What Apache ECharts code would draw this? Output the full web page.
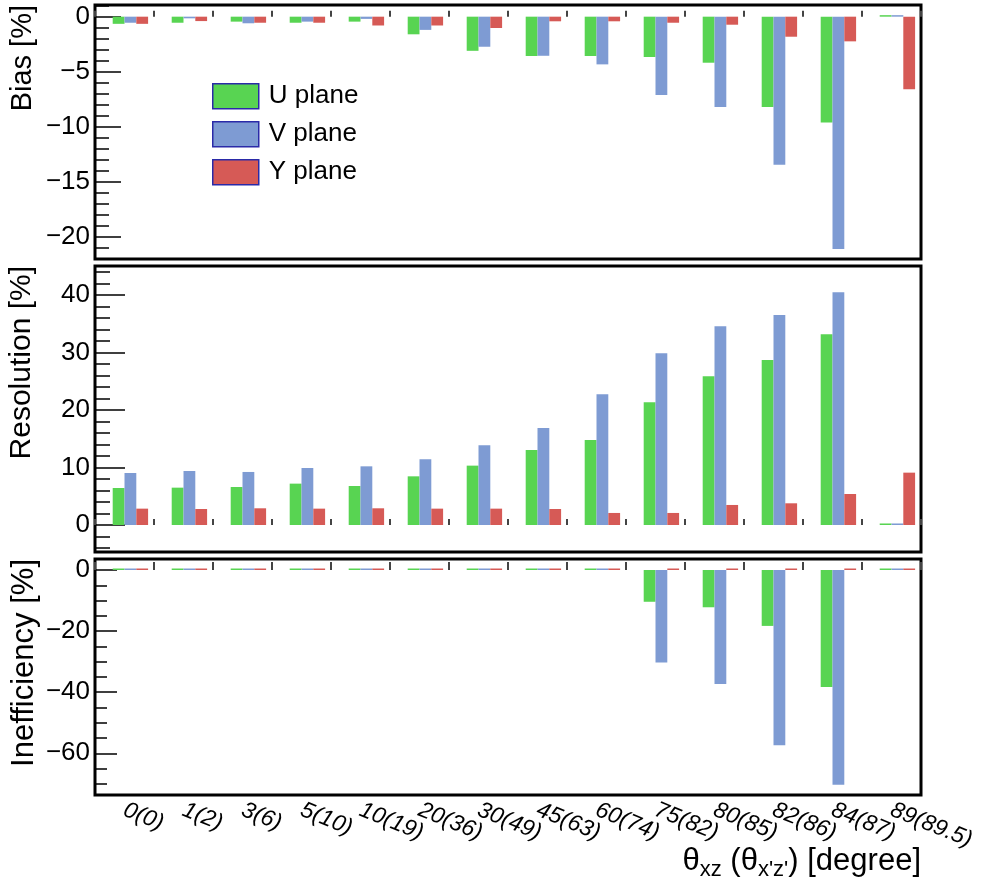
<!DOCTYPE html>
<html>
<head>
<meta charset="utf-8">
<script src="https://cdn.jsdelivr.net/npm/echarts@6/dist/echarts.min.js"></script>
<style>
  html, body { margin: 0; padding: 0; background: #fff; }
  #chart { width: 987px; height: 886px; }
</style>
</head>
<body>
<div id="chart"></div>
<script>
// angle bins: theta_xz (theta_x'z')
const categories = ['0(0)', '1(2)', '3(6)', '5(10)', '10(19)', '20(36)', '30(49)', '45(63)',
  '60(74)', '75(82)', '80(85)', '82(86)', '84(87)', '89(89.5)']

const biasU = [-0.65, -0.55, -0.45, -0.55, -0.45, -1.6, -3.1, -3.57, -3.57, -3.66, -4.18, -8.2, -9.6, 0]
const biasV = [-0.55, -0.15, -0.6, -0.45, -0.2, -1.2, -2.73, -3.55, -4.33, -7.12, -8.2, -13.45, -21.1, 0]
const biasY = [-0.65, -0.4, -0.55, -0.55, -0.8, -0.8, -1.03, -0.42, -0.42, -0.55, -0.73, -1.82, -2.24, -6.6]

const resU = [6.43, 6.49, 6.6, 7.19, 6.78, 8.46, 10.32, 13.04, 14.78, 21.33, 25.86, 28.7, 33.16, 0]
const resV = [9.04, 9.39, 9.22, 9.91, 10.2, 11.42, 13.85, 16.87, 22.72, 29.85, 34.55, 36.52, 40.46, 0]
const resY = [2.84, 2.78, 2.9, 2.84, 2.9, 2.84, 2.84, 2.78, 2.09, 2.09, 3.48, 3.77, 5.39, 9.1]

const ineffU = [0, 0, 0, 0, 0, 0, 0, 0, 0, -10.4, -12.2, -18.3, -38.3, 0]
const ineffV = [0, 0, 0, 0, 0, 0, 0, 0, 0, -30.3, -37.3, -57.4, -70.3, 0]
const ineffY = [0, 0, 0, 0, 0, 0, 0, 0, 0, 0, 0, 0, 0, 0]

const planeNames = ['U plane', 'V plane', 'Y plane']

// y tick labels per panel
const biasTicks = [0, -5, -10, -15, -20]
const resTicks = [0, 10, 20, 30, 40]
const ineffTicks = [0, -20, -40, -60]

const FONT = '"Liberation Sans", Arial, Helvetica, sans-serif'
const COLORS = ['#58d452', '#7e9bd3', '#d65a56']

// minor tick positions between majors
function minorTicks(min, max, step, majors) {
  const out = []
  for (let v = Math.ceil(min / step) * step; v <= max; v += step) {
    const r = Math.round(v * 1000) / 1000
    if (!majors.includes(r)) out.push(r)
  }
  return out
}

const panels = [
  { top: 5, height: 254, min: -22.0, max: 1.06, ticks: biasTicks, step: 1, major: 26, minor: 14,
    data: [biasU, biasV, biasY], title: 'Bias [%]', titleSize: 29, titleX: 23 },
  { top: 266, height: 286, min: -4.7, max: 45.04, ticks: resTicks, step: 2, major: 30, minor: 15,
    data: [resU, resV, resY], title: 'Resolution [%]', titleSize: 30, titleX: 22 },
  { top: 559, height: 236, min: -73.65, max: 3.6, ticks: ineffTicks, step: 5, major: 22, minor: 12,
    data: [ineffU, ineffV, ineffY], title: 'Inefficiency [%]', titleSize: 31, titleX: 24 },
]

const grid = []
const xAxis = []
const yAxis = []
const series = []
const graphic = []

panels.forEach((p, i) => {
  grid.push({
    left: 95, right: 66, top: p.top, height: p.height,
    show: true, borderColor: '#000', borderWidth: 3, backgroundColor: '#fff',
  })
  const last = i === panels.length - 1
  xAxis.push({
    type: 'category', gridIndex: i, data: categories,
    axisLine: { show: false },
    axisTick: { show: true, inside: true, length: last ? 8 : 6, lineStyle: { color: '#444', width: 2 } },
    axisLabel: last
      ? { show: true, interval: 0, rotate: -22, fontStyle: 'italic', fontSize: 23, margin: 14, color: '#000', fontFamily: FONT }
      : { show: false },
    splitLine: { show: false },
  })
  yAxis.push({
    type: 'value', gridIndex: i, position: 'left', min: p.min, max: p.max,
    axisLine: { show: false },
    splitLine: { show: false },
    axisTick: { show: true, inside: true, length: p.major, customValues: p.ticks, lineStyle: { color: '#000', width: 1.5 } },
    axisLabel: {
      customValues: p.ticks, fontSize: 26, color: '#000', margin: 5, fontFamily: FONT,
      formatter: (v) => String(v).replace('-', '\u2212'),
    },
  })
  yAxis.push({
    type: 'value', gridIndex: i, position: 'left', min: p.min, max: p.max,
    axisLine: { show: false },
    splitLine: { show: false },
    axisTick: { show: true, inside: true, length: p.minor, customValues: minorTicks(p.min, p.max, p.step, p.ticks), lineStyle: { color: '#000', width: 1.5 } },
    axisLabel: { show: false },
  })
  // empty leading slot so the three bars sit at 0.3-0.9 of each bin
  series.push({
    name: 'pad', type: 'bar', xAxisIndex: i, yAxisIndex: i * 2, data: [],
    barWidth: '20%', barGap: '0%',
  })
  p.data.forEach((d, k) => {
    series.push({
      name: planeNames[k], type: 'bar', xAxisIndex: i, yAxisIndex: i * 2, data: d,
      barWidth: '20%', barGap: '0%', barMinHeight: 1.5,
      itemStyle: { color: COLORS[k] },
      silent: true,
    })
  })
  graphic.push({
    type: 'text', x: p.titleX, y: p.top, rotation: Math.PI / 2,
    style: {
      text: p.title, fill: '#000', fontSize: p.titleSize, fontFamily: FONT,
      align: 'right', verticalAlign: 'middle',
    },
  })
})

const chart = echarts.init(document.getElementById('chart'), null, { renderer: 'canvas' })
chart.setOption({
  animation: false,
  backgroundColor: '#fff',
  title: {
    text: '{t|\u03b8}{s|xz}{t| (\u03b8}{s|x\'z\'}{t|) [degree]}',
    right: 66, top: 841, padding: 0,
    textStyle: {
      fontWeight: 'normal',
      rich: {
        t: { fontSize: 31, fontWeight: 'normal', fontFamily: FONT, color: '#000', lineHeight: 40 },
        s: { fontSize: 22, fontWeight: 'normal', fontFamily: FONT, color: '#000', lineHeight: 22, verticalAlign: 'bottom' },
      },
    },
  },
  legend: {
    data: planeNames, orient: 'vertical', left: 207, top: 78,
    itemWidth: 46, itemHeight: 25, itemGap: 11.5, icon: 'rect', selectedMode: false,
    itemStyle: { borderColor: '#2a2aa8', borderWidth: 1.5 },
    textStyle: { fontSize: 26, color: '#000', fontFamily: FONT, lineHeight: 25, padding: [0, 0, 0, 5] },
  },
  grid, xAxis, yAxis, series, graphic,
})
</script>
</body>
</html>
